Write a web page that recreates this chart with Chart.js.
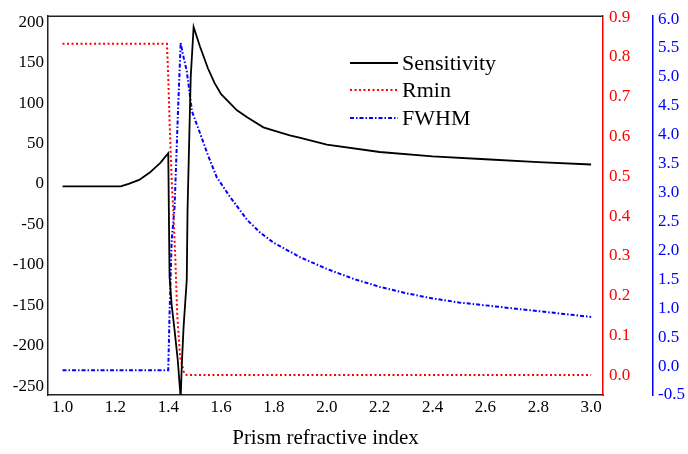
<!DOCTYPE html>
<html>
<head>
<meta charset="utf-8">
<script src="https://cdn.jsdelivr.net/npm/chart.js@4.4.1/dist/chart.umd.min.js"></script>
<style>
  html, body { margin: 0; padding: 0; background: #fff; }
  #wrap { width: 688px; height: 454px; }
</style>
</head>
<body>
<div id="wrap"><canvas id="chart" width="688" height="454"></canvas></div>
<script>
// values
let sensX = [1.00, 1.22, 1.25, 1.29, 1.33, 1.37, 1.40, 1.405, 1.413, 1.424, 1.436, 1.447, 1.451, 1.458, 1.470, 1.473, 1.485, 1.496, 1.52, 1.55, 1.575, 1.60, 1.66, 1.70, 1.76, 1.80, 1.86, 1.90, 2.00, 2.20, 2.40, 2.60, 2.80, 3.00];
let sensY = [-3, -3, 0, 5, 14, 26, 38, -115, -150, -181, -218, -265, -226, -177, -119, -32, 132, 194, 170, 143, 125, 111, 91, 82, 70, 66, 60, 57, 48.5, 39.5, 34, 30.5, 27, 24];

let rminX = [1.00, 1.395, 1.40, 1.405, 1.413, 1.42, 1.427, 1.434, 1.445, 1.46, 1.47, 1.50, 2.00, 2.50, 3.00];
let rminY = [0.833, 0.833, 0.75, 0.64, 0.49, 0.40, 0.29, 0.15, 0.045, 0.005, 0.0, 0.0, 0.0, 0.0, 0.0];

let fwhmX = [1.00, 1.40, 1.405, 1.409, 1.413, 1.424, 1.436, 1.447, 1.455, 1.47, 1.49, 1.52, 1.55, 1.583, 1.633, 1.70, 1.75, 1.80, 1.90, 2.00, 2.10, 2.20, 2.30, 2.40, 2.50, 2.60, 2.70, 2.80, 2.90, 3.00];
let fwhmY = [-0.07, -0.07, 0.92, 1.54, 2.18, 2.75, 4.3, 5.59, 5.4, 5.1, 4.4, 4.03, 3.65, 3.27, 2.93, 2.52, 2.3, 2.13, 1.88, 1.68, 1.51, 1.37, 1.26, 1.17, 1.10, 1.05, 1.0, 0.95, 0.90, 0.85];

let xTicks = [1.0, 1.2, 1.4, 1.6, 1.8, 2.0, 2.2, 2.4, 2.6, 2.8, 3.0];
let sensTicks = [-250, -200, -150, -100, -50, 0, 50, 100, 150, 200];
let rminTicks = [0, 0.1, 0.2, 0.3, 0.4, 0.5, 0.6, 0.7, 0.8, 0.9];
let fwhmTicks = [-0.5, 0, 0.5, 1, 1.5, 2, 2.5, 3, 3.5, 4, 4.5, 5, 5.5, 6];

let labels = ['Sensitivity', 'Rmin', 'FWHM'];

function pts(xs, ys) {
    return xs.map((x, i) => ({ x: x, y: ys[i] }));
}

function fixTicks(list) {
    return function (scale) {
        scale.ticks = list.map(v => ({ value: v }));
    };
}

const serif = "'Liberation Serif', 'Times New Roman', serif";

// legend sits inside the plot, drawn by hand
const insideLegend = {
    id: 'insideLegend',
    afterDraw(chart) {
        const ctx = chart.ctx;
        const area = chart.chartArea;
        ctx.save();
        // top frame line
        ctx.strokeStyle = '#222';
        ctx.lineWidth = 1.5;
        ctx.beginPath();
        ctx.moveTo(area.left, area.top);
        ctx.lineTo(area.right, area.top);
        ctx.stroke();

        let rows = [63, 90, 118];
        chart.data.datasets.forEach((ds, i) => {
            ctx.strokeStyle = ds.borderColor;
            ctx.lineWidth = ds.borderWidth;
            ctx.setLineDash(ds.borderDash || []);
            ctx.beginPath();
            ctx.moveTo(350, rows[i]);
            ctx.lineTo(398, rows[i]);
            ctx.stroke();
            ctx.setLineDash([]);
            ctx.fillStyle = '#000';
            ctx.font = '22px ' + serif;
            ctx.textBaseline = 'middle';
            ctx.textAlign = 'left';
            ctx.fillText(ds.label, 402, rows[i] + 1);
        });
        ctx.restore();
    }
};

let ctx = document.getElementById('chart').getContext('2d');
let chart = new Chart(ctx, {
    type: 'line',
    data: {
        datasets: [{
            label: labels[0],
            data: pts(sensX, sensY),
            borderColor: '#000000',
            borderWidth: 1.8,
            yAxisID: 'y'
        }, {
            label: labels[1],
            data: pts(rminX, rminY),
            borderColor: '#ff0000',
            borderWidth: 2,
            borderDash: [2, 2.5],
            yAxisID: 'yR'
        }, {
            label: labels[2],
            data: pts(fwhmX, fwhmY),
            borderColor: '#0000ff',
            borderWidth: 2,
            borderDash: [4, 2, 1.5, 2],
            yAxisID: 'yB'
        }]
    },
    options: {
        responsive: false,
        animation: false,
        layout: { padding: { top: 16, left: 0, right: 0, bottom: 0 } },
        elements: { point: { radius: 0 }, line: { tension: 0 } },
        plugins: {
            legend: { display: false },
            tooltip: { enabled: false }
        },
        scales: {
            x: {
                type: 'linear',
                min: 0.945,
                max: 3.045,
                afterBuildTicks: fixTicks(xTicks),
                afterFit: s => { s.height = 59; },
                grid: { display: false, drawTicks: false },
                border: { display: true, color: '#222', width: 1.5 },
                ticks: {
                    padding: 2,
                    color: '#000',
                    font: { family: serif, size: 17 },
                    callback: v => v.toFixed(1)
                },
                title: {
                    display: true,
                    text: 'Prism refractive index',
                    color: '#000',
                    font: { family: serif, size: 21 },
                    padding: { top: 4, bottom: 3 }
                }
            },
            y: {
                position: 'left',
                min: -261,
                max: 207.4,
                afterBuildTicks: fixTicks(sensTicks),
                afterFit: s => { s.width = 48; },
                grid: { display: false, drawTicks: false },
                border: { display: true, color: '#222', width: 1.5 },
                ticks: {
                    padding: 4,
                    color: '#000',
                    font: { family: serif, size: 17 }
                }
            },
            yR: {
                position: 'right',
                weight: 1,
                min: -0.05,
                max: 0.9025,
                afterBuildTicks: fixTicks(rminTicks),
                afterFit: s => { s.width = 50; },
                grid: { display: false, drawTicks: false },
                border: { display: true, color: '#ff0000', width: 1.5 },
                ticks: {
                    padding: 6,
                    color: '#ff0000',
                    font: { family: serif, size: 17 },
                    callback: v => v.toFixed(1)
                }
            },
            yB: {
                position: 'right',
                weight: 2,
                min: -0.5,
                max: 6.05,
                afterBuildTicks: fixTicks(fwhmTicks),
                afterFit: s => { s.width = 35; },
                grid: { display: false, drawTicks: false },
                border: { display: true, color: '#0000ff', width: 1.5 },
                ticks: {
                    padding: 5,
                    color: '#0000ff',
                    font: { family: serif, size: 17 },
                    callback: v => v.toFixed(1)
                }
            }
        }
    },
    plugins: [insideLegend]
});
</script>
</body>
</html>
